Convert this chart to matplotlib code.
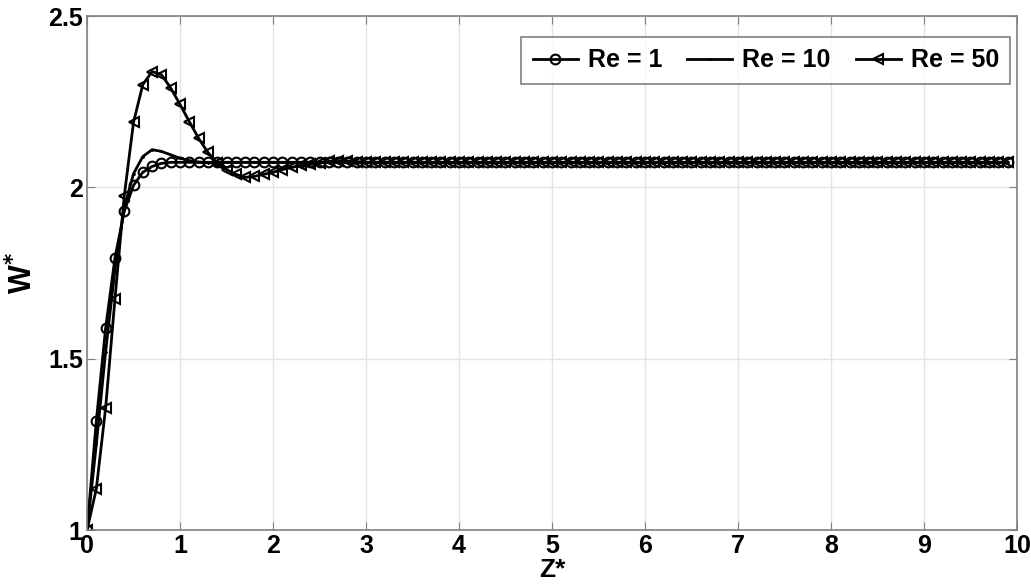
import numpy as np
import matplotlib.pyplot as plt

# z* sample points (step 0.1)
z = np.round(np.arange(0, 100) * 0.1, 1)

# W* for Re = 1
w_re1 = [1.0, 1.318, 1.589, 1.793, 1.930, 2.006, 2.044, 2.061, 2.070, 2.073] + [2.073] * 90

# W* for Re = 10
w_re10 = [1.0, 1.25, 1.52, 1.76, 1.94, 2.04, 2.09, 2.11, 2.105, 2.095,
          2.085, 2.078, 2.074, 2.072, 2.071] + [2.073] * 85

# W* for Re = 50
w_re50 = [1.0, 1.12, 1.356, 1.673, 1.974, 2.19, 2.30, 2.338, 2.329, 2.29,
          2.242, 2.192, 2.143, 2.102, 2.070, 2.052, 2.038, 2.029, 2.032, 2.038,
          2.044, 2.052, 2.058, 2.064, 2.067, 2.070, 2.076, 2.078, 2.077, 2.075] + [2.073] * 70

labels = ['Re = 1', 'Re = 10', 'Re = 50']

plt.rcParams['font.family'] = ['Liberation Sans', 'DejaVu Sans']
plt.rcParams['font.weight'] = 'bold'

fig = plt.figure(figsize=(10.31, 5.85), dpi=100)
ax = fig.add_axes([0.0844, 0.094, 0.9020, 0.8786])

ax.plot(z, w_re1, '-o', color='black', lw=2, ms=7, mfc='none', mew=1.5, label=labels[0])
ax.plot(z, w_re10, '-', color='black', lw=2, marker='.', ms=2, label=labels[1])
ax.plot(z, w_re50, '-<', color='black', lw=2, ms=7, mfc='none', mew=1.5, label=labels[2])

ax.set_xlim(0, 10)
ax.set_ylim(1, 2.5)
ax.set_xticks(np.arange(0, 11, 1))
ax.set_yticks([1, 1.5, 2, 2.5])
ax.set_yticklabels(['1', '1.5', '2', '2.5'])
ax.grid(True, color='#e4e4e4', lw=1)
ax.tick_params(direction='in', top=True, right=True, labelsize=18, length=6, color='#808080', pad=3)
for sp in ax.spines.values():
    sp.set_color('#808080')
    sp.set_linewidth(1.2)
for lab in ax.get_xticklabels() + ax.get_yticklabels():
    lab.set_fontweight('bold')

ax.set_xlabel('Z*', fontsize=19, fontweight='bold', labelpad=0)
ax.set_ylabel(r'W$^{\mathbf{*}}$', fontsize=22, fontweight='bold', labelpad=6)

leg = ax.legend(loc='upper right', ncol=3, fontsize=18, frameon=True, fancybox=False,
                edgecolor='#606060', handlelength=1.8, columnspacing=1.0, handletextpad=0.4,
                bbox_to_anchor=(0.9925, 0.959), borderaxespad=0, borderpad=0.45)
leg.get_frame().set_linewidth(1.2)
for t in leg.get_texts():
    t.set_fontweight('bold')

fig.savefig('out.png', dpi=100)
